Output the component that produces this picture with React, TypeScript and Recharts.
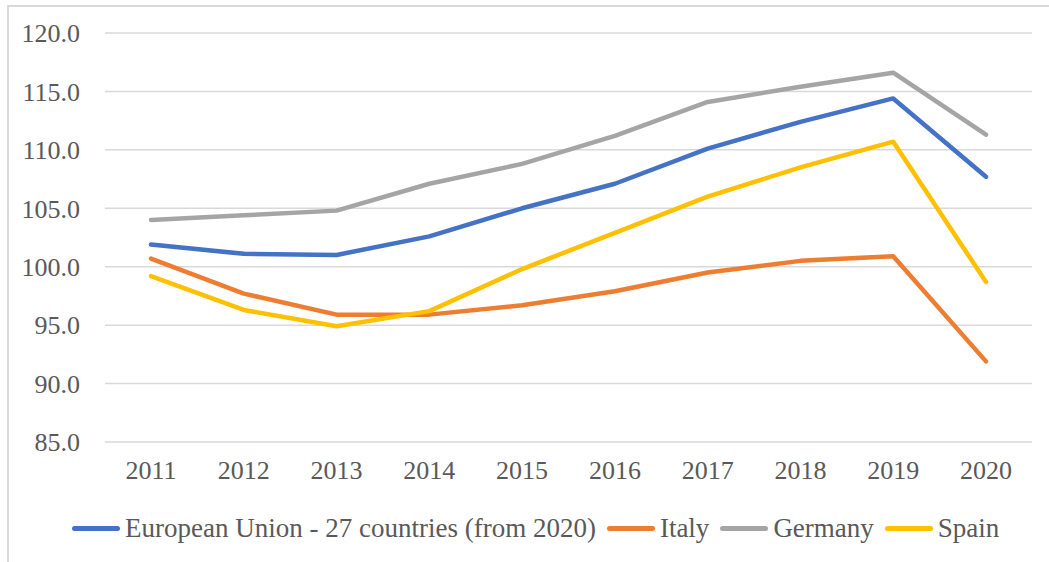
import React from "react";
import { LineChart, Line, XAxis, YAxis, CartesianGrid } from "recharts";

const years = ["2011", "2012", "2013", "2014", "2015", "2016", "2017", "2018", "2019", "2020"];
const eu27 = [101.9, 101.1, 101.0, 102.6, 105.0, 107.1, 110.1, 112.4, 114.4, 107.7];
const italy = [100.7, 97.7, 95.9, 95.9, 96.7, 97.9, 99.5, 100.5, 100.9, 91.9];
const germany = [104.0, 104.4, 104.8, 107.1, 108.8, 111.2, 114.1, 115.4, 116.6, 111.3];
const spain = [99.2, 96.3, 94.9, 96.2, 99.8, 102.9, 106.0, 108.5, 110.7, 98.7];
const yTicks = [85, 90, 95, 100, 105, 110, 115, 120];

const series = [
  { key: "eu", name: "European Union - 27 countries (from 2020)", color: "#4472C4", values: eu27 },
  { key: "it", name: "Italy", color: "#ED7D31", values: italy },
  { key: "de", name: "Germany", color: "#A5A5A5", values: germany },
  { key: "es", name: "Spain", color: "#FFC000", values: spain },
];

const data = years.map((y, i) => {
  const row: Record<string, string | number> = { year: y };
  series.forEach((s) => {
    row[s.key] = s.values[i];
  });
  return row;
});

const FONT = "'Liberation Serif', 'DejaVu Serif', serif";
const TEXT = "#595959";

export default function App() {
  return (
    <div style={{ position: "absolute", left: 0, top: 0, width: 1049, height: 562, background: "#fff", fontFamily: FONT }}>
      <div style={{ position: "absolute", left: 7, top: 5, width: 1042, height: 557, borderLeft: "2px solid #D9D9D9", borderTop: "2px solid #D9D9D9" }} />
      <LineChart width={1049} height={562} data={data} margin={{ top: 33, right: 17, left: 0, bottom: 80 }}>
        <CartesianGrid vertical={false} stroke="#D9D9D9" strokeWidth={1.5} />
        <XAxis
          dataKey="year"
          axisLine={false}
          tickLine={false}
          tickSize={0}
          tickMargin={19}
          height={40}
          interval={0}
          padding={{ left: 46, right: 46 }}
          tick={{ fill: TEXT, fontSize: 26, fontFamily: FONT }}
        />
        <YAxis
          domain={[85, 120]}
          ticks={yTicks}
          axisLine={false}
          tickLine={false}
          tickSize={0}
          tickMargin={25}
          width={105}
          tickFormatter={(v: number) => v.toFixed(1)}
          tick={{ fill: TEXT, fontSize: 26, fontFamily: FONT }}
          interval={0}
        />
        {series.map((s) => (
          <Line
            key={s.key}
            dataKey={s.key}
            name={s.name}
            stroke={s.color}
            strokeWidth={4.5}
            dot={false}
            activeDot={false}
            isAnimationActive={false}
            strokeLinejoin="round"
            strokeLinecap="round"
          />
        ))}
      </LineChart>
      <div
        style={{
          position: "absolute",
          top: 513,
          left: 72,
          display: "flex",
          alignItems: "center",
          fontSize: 27,
          lineHeight: "30px",
          color: TEXT,
          whiteSpace: "nowrap",
        }}
      >
        {series.map((s, i) => (
          <div key={s.key} style={{ display: "flex", alignItems: "center", marginLeft: i === 0 ? 0 : 11 }}>
            <span style={{ display: "inline-block", width: 48, height: 5, borderRadius: 3, background: s.color, marginRight: 5 }} />
            <span>{s.name}</span>
          </div>
        ))}
      </div>
    </div>
  );
}
